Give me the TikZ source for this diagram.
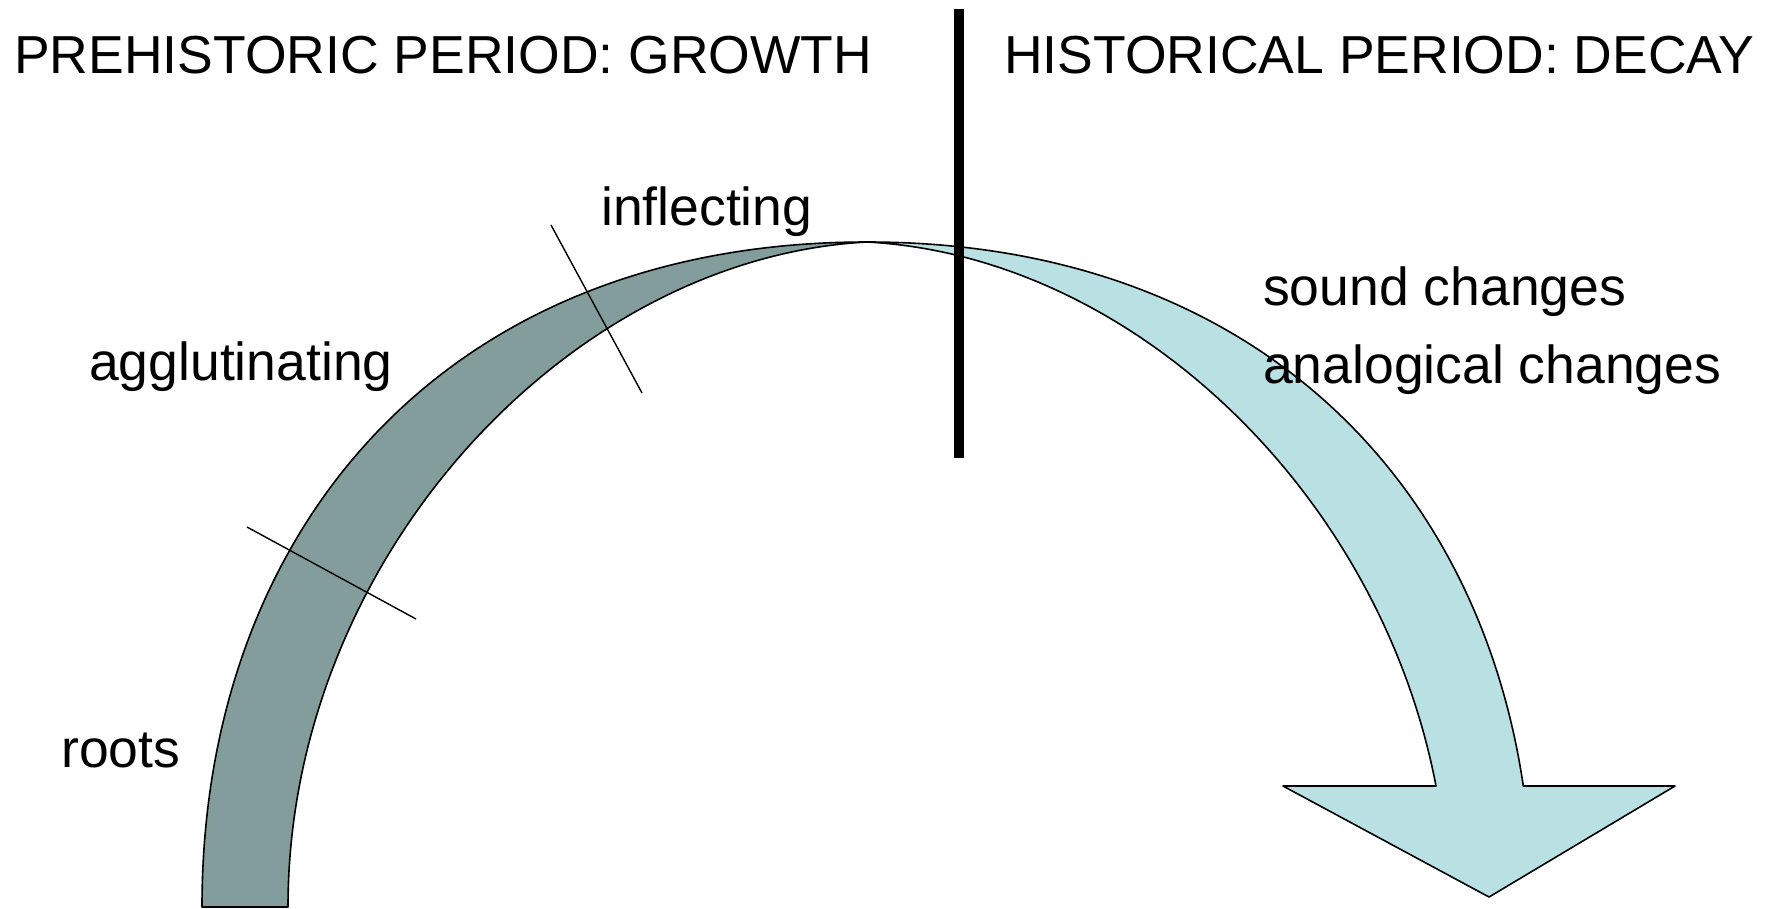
\documentclass[tikz,border=0pt]{standalone}
\usepackage{fontspec}
\setmainfont{Liberation Sans}
\begin{document}
\begin{tikzpicture}[x=1pt,y=-1pt,
  lbl/.style={anchor=base west,inner sep=0pt,font=\fontsize{53.5}{60}\selectfont},
  title/.style={anchor=base west,inner sep=0pt,font=\fontsize{53.5}{60}\selectfont},
  band/.style={draw=black,line width=1.6pt,line join=round},
  tick/.style={draw=black,line width=1.4pt}]
\useasboundingbox (0,0) rectangle (1774,908);
% dark growing band
\path[band,fill={rgb,255:red,131;green,157;blue,157}]
  (202,907) .. controls (202,534.6) and (440,242) .. (867,242)
  .. controls (566,258) and (288,561.2) .. (288,907) -- cycle;
% light decaying arrow
\path[band,fill={rgb,255:red,185;green,224;blue,227}]
  (867,242) .. controls (1246.6,242) and (1476.9,473.2) .. (1523.3,786)
  -- (1675,786) -- (1489,897) -- (1283,786) -- (1436,786)
  .. controls (1380.1,493.6) and (1132.5,256.1) .. (867,242) -- cycle;
% ticks
\coordinate (t1a) at (247,527); \coordinate (t1b) at (416,619);
\coordinate (t2a) at (551,225); \coordinate (t2b) at (642,393);
\draw[tick] (t1a) -- (t1b);
\draw[tick] (t2a) -- (t2b);
% divider
\coordinate (da) at (959,9); \coordinate (db) at (959,458);
\draw[line width=10pt] (da) -- (db);
% texts
\node[title] (t1) at (14,73) {PREHISTORIC PERIOD: GROWTH};
\node[title] (t2) at (1004,73) {HISTORICAL PERIOD: DECAY};
\node[lbl] (l1) at (601,225) {inflecting};
\node[lbl] (l2) at (89,380) {agglutinating};
\node[lbl] (l3) at (61,767) {roots};
\node[lbl] (l4) at (1263,305) {sound changes};
\node[lbl] (l5) at (1263,383) {analogical changes};
\end{tikzpicture}
\end{document}
